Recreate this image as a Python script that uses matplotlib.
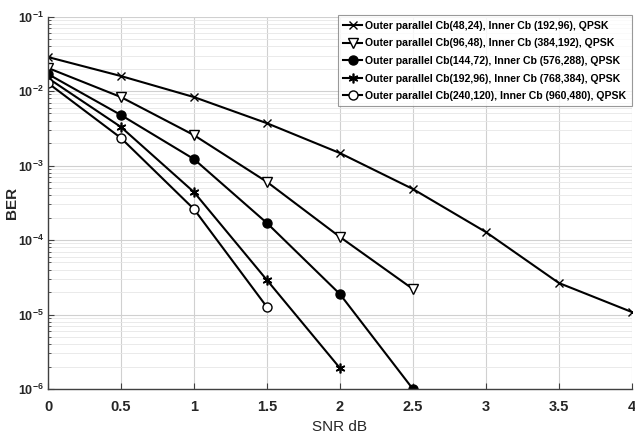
import numpy as np
import matplotlib
matplotlib.use('Agg')
import matplotlib.pyplot as plt
from matplotlib.ticker import LogLocator, NullFormatter

# SNR points and BER values
snr = [0, 0.5, 1, 1.5, 2, 2.5, 3, 3.5, 4]
ber_48 = [0.0286, 0.0159, 0.0083, 0.0037, 0.00147, 0.000484, 0.000128, 2.65e-5, 1.08e-5]
ber_96 = [0.0204, 0.0083, 0.00256, 0.000603, 0.000110, 2.2e-5]
ber_144 = [0.0169, 0.00476, 0.00122, 0.000169, 1.88e-5, 1.0e-6]
ber_192 = [0.0149, 0.00329, 0.00044, 2.9e-5, 1.91e-6]
ber_240 = [0.0128, 0.00234, 0.00026, 1.26e-5]

labels = ['Outer parallel Cb(48,24), Inner Cb (192,96), QPSK',
          'Outer parallel Cb(96,48), Inner Cb (384,192), QPSK',
          'Outer parallel Cb(144,72), Inner Cb (576,288), QPSK',
          'Outer parallel Cb(192,96), Inner Cb (768,384), QPSK',
          'Outer parallel Cb(240,120), Inner Cb (960,480), QPSK']
xticks = [0, 0.5, 1, 1.5, 2, 2.5, 3, 3.5, 4]
xtick_labels = ['0', '0.5', '1', '1.5', '2', '2.5', '3', '3.5', '4']

FONT = ['Liberation Sans', 'DejaVu Sans']
plt.rcParams['font.family'] = FONT
plt.rcParams['mathtext.fontset'] = 'custom'
plt.rcParams['mathtext.rm'] = 'Liberation Sans:bold'

fig = plt.figure(figsize=(6.35, 4.36), dpi=100)
ax = fig.add_axes([0.0756, 0.1078, 0.9194, 0.8542])

series = [ber_48, ber_96, ber_144, ber_192, ber_240]
styles = [dict(marker='x', ms=6, mfc='none', mew=1.0),
          dict(marker='v', ms=7, mfc='white', mew=1.0),
          dict(marker='o', ms=6.5, mfc='black', mew=1.0),
          dict(marker=(6, 2, 0), ms=7, mfc='black', mew=1.2),
          dict(marker='o', ms=6.5, mfc='white', mew=1.0)]

for vals, st, lab in zip(series, styles, labels):
    ax.semilogy(snr[:len(vals)], vals, color='black', lw=1.5, mec='black',
                label=lab, **st)

ax.set_xlim(0, 4)
ax.set_ylim(1e-6, 1e-1)
ax.set_xticks(xticks)
ax.set_xticklabels(xtick_labels)
ax.yaxis.set_major_locator(LogLocator(base=10, numticks=10))
ax.yaxis.set_minor_locator(LogLocator(base=10, subs=np.arange(2, 10), numticks=10))
ax.yaxis.set_minor_formatter(NullFormatter())

ax.grid(True, which='major', color='#d0d0d0', lw=0.8)
ax.grid(True, which='minor', axis='y', color='#e6e6e6', lw=0.6)
ax.set_axisbelow(True)

for s in ['top', 'right']:
    ax.spines[s].set_visible(False)
for s in ['left', 'bottom']:
    ax.spines[s].set_color('#404040')
    ax.spines[s].set_linewidth(1.0)

ax.tick_params(axis='both', which='both', direction='in', colors='#404040',
               labelcolor='#262626')
ax.tick_params(axis='x', labelsize=10.5, length=4, pad=8)
ax.tick_params(axis='y', which='major', labelsize=9, length=4, pad=3)
ax.tick_params(axis='y', which='minor', length=2.5)
for t in ax.get_xticklabels() + ax.get_yticklabels():
    t.set_fontweight('bold')

ax.set_xlabel('SNR dB', fontsize=11, color='#262626', labelpad=4)
ax.set_ylabel('BER', fontsize=11, fontweight='bold', color='#262626')
ax.yaxis.set_label_coords(-0.05, 0.5)

leg = ax.legend(loc='upper right', bbox_to_anchor=(1.0, 1.003),
                prop=dict(family=FONT, weight='bold', size=7.6),
                frameon=True, fancybox=False, edgecolor='#808080',
                handlelength=1.8, handletextpad=0.3, borderpad=0.5,
                labelspacing=0.72, borderaxespad=0.0)
leg.get_frame().set_linewidth(0.8)

fig.savefig('out.png', dpi=100)
